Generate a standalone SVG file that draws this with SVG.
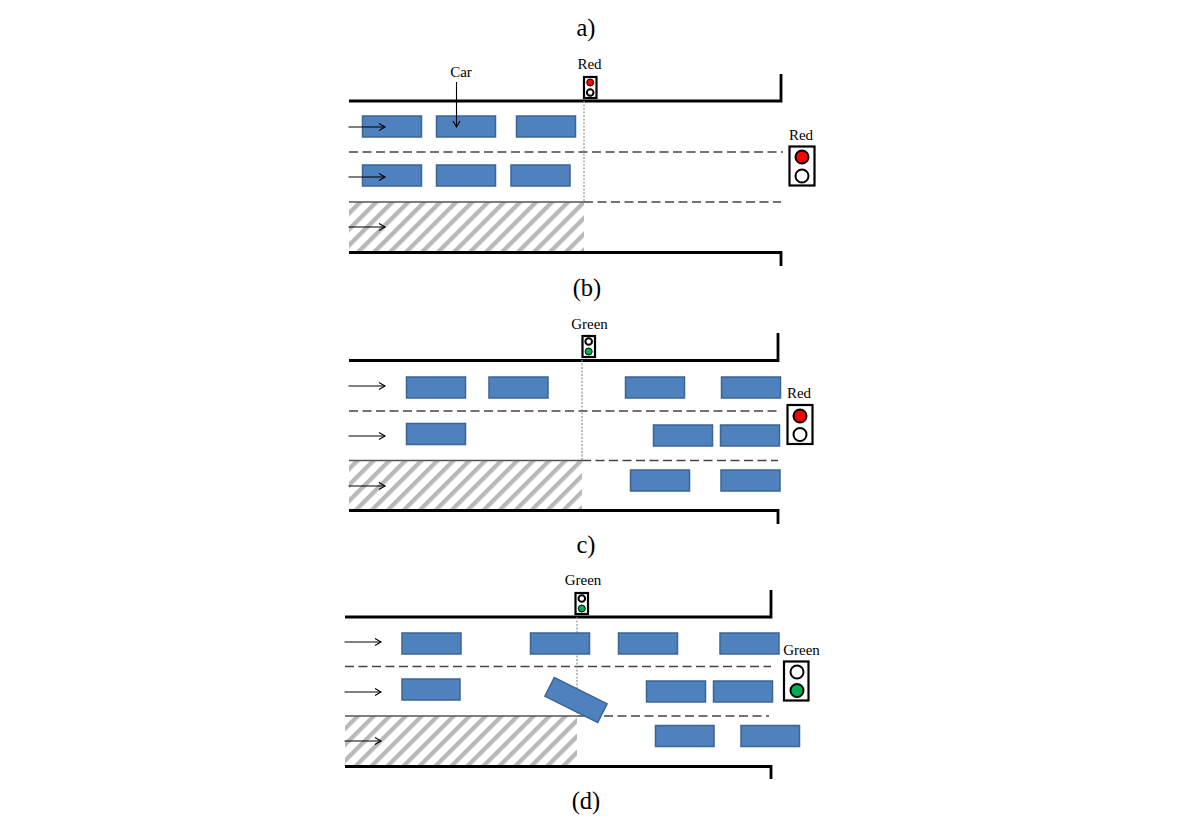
<svg xmlns="http://www.w3.org/2000/svg" width="1188" height="822" viewBox="0 0 1188 822">
<style>
text{font-family:"Liberation Serif","Times New Roman",serif;fill:#000;text-anchor:middle}
.cap{font-size:24.500px}.lab{font-size:15px}
.road{fill:none;stroke:#000;stroke-width:2.800}
.dash{fill:none;stroke:#444;stroke-width:1.300;stroke-dasharray:9 4.500}
.solid{fill:none;stroke:#555;stroke-width:1.300}
.stop{fill:none;stroke:#888;stroke-width:1.100;stroke-dasharray:2 1.500}
.car{fill:#4f81bd;stroke:#3a6595;stroke-width:1.500}
.arr{fill:none;stroke:#000;stroke-width:1.100;marker-end:url(#a)}
.box{fill:#fff;stroke:#000;stroke-width:2.200}
.lamp{fill:#fff;stroke:#000;stroke-width:2}
.r{fill:#f00}.g{fill:#00b050}
.hatch{fill:url(#h)}
</style>
<defs>
<pattern id="h" patternUnits="userSpaceOnUse" width="11.300" height="11.300" patternTransform="rotate(45)">
<rect width="11.300" height="11.300" fill="#fff"/><rect width="4.300" height="11.300" fill="#b8b8b8"/>
</pattern>
<marker id="a" markerUnits="userSpaceOnUse" markerWidth="10" markerHeight="10" refX="8" refY="5" orient="auto">
<path d="M2 1.500L8 5L2 8.500" fill="none" stroke="#000" stroke-width="1.100"/>
</marker>
</defs>
<g id="captions">
<text class="cap" x="586" y="36">a)</text>
<text class="cap" x="587" y="296">(b)</text>
<text class="cap" x="586" y="553">c)</text>
<text class="cap" x="586" y="809">(d)</text>
</g>
<g id="hatches">
<rect class="hatch" x="349" y="202" width="235" height="50"/>
<rect class="hatch" x="349" y="461" width="233" height="49"/>
<rect class="hatch" x="345" y="716" width="232" height="50"/>
</g>
<g id="roads">
<path class="road" d="M349 101H781V74M349 252.500H781V266"/>
<path class="road" d="M349 360.500H778V333M349 510.500H778V524"/>
<path class="road" d="M345 617H771V590M345 766.500H771V779"/>
</g>
<g id="lane-lines">
<path class="dash" d="M349 152H783"/><path class="solid" d="M349 202H584"/><path class="dash" d="M584 202H781"/>
<path class="dash" d="M349 411H778"/><path class="solid" d="M349 460.500H582"/><path class="dash" d="M582 460.500H778"/>
<path class="dash" d="M345 666.500H771"/><path class="solid" d="M345 716H577"/><path class="dash" d="M577 716H769"/>
<path class="stop" d="M584 101V202"/><path class="stop" d="M582 360V461"/><path class="stop" d="M577 617V716"/>
</g>
<g id="cars">
<rect class="car" x="362.500" y="116" width="59" height="21"/><rect class="car" x="436.500" y="116" width="59" height="21"/><rect class="car" x="516.500" y="116" width="59" height="21"/>
<rect class="car" x="362.500" y="165" width="59" height="21"/><rect class="car" x="436.500" y="165" width="59" height="21"/><rect class="car" x="511" y="165" width="59" height="21"/>
<rect class="car" x="406.500" y="377" width="59" height="21"/><rect class="car" x="489" y="377" width="59" height="21"/><rect class="car" x="625.500" y="377" width="59" height="21"/><rect class="car" x="721.500" y="377" width="59" height="21"/>
<rect class="car" x="406.500" y="423.500" width="59" height="21"/><rect class="car" x="653.500" y="425" width="59" height="21"/><rect class="car" x="720.500" y="425" width="59" height="21"/>
<rect class="car" x="630.500" y="470" width="59" height="21"/><rect class="car" x="721" y="470" width="59" height="21"/>
<rect class="car" x="402" y="633" width="59" height="21"/><rect class="car" x="530.500" y="633" width="59" height="21"/><rect class="car" x="618.500" y="633" width="59" height="21"/><rect class="car" x="720" y="633" width="59" height="21"/>
<rect class="car" x="402" y="679" width="58" height="21"/><rect class="car" x="646.500" y="681" width="59" height="21"/><rect class="car" x="713.500" y="681" width="59" height="21"/>
<rect class="car" x="655.500" y="725.500" width="58.500" height="21"/><rect class="car" x="741" y="725.500" width="58.500" height="21"/>
<rect class="car" x="-29.500" y="-10.500" width="59" height="21" transform="translate(576 700) rotate(26.500)"/>
</g>
<g id="arrows">
<path class="arr" d="M348.500 127H385"/><path class="arr" d="M348.500 177H385"/><path class="arr" d="M348.500 227H385"/>
<path class="arr" d="M348.500 386H385"/><path class="arr" d="M348.500 436H385"/><path class="arr" d="M348.500 486H385"/>
<path class="arr" d="M344.500 642H381"/><path class="arr" d="M344.500 692H381"/><path class="arr" d="M344.500 741H381"/>
<path class="arr" d="M456.500 82V127"/>
</g>
<g id="car-label"><text class="lab" x="461" y="77">Car</text></g>
<g id="signal-b-top"><text class="lab" x="589.500" y="69">Red</text><rect class="box" x="584" y="77" width="12.500" height="21"/><circle class="r" cx="590.200" cy="82.500" r="3.500" stroke="#000" stroke-width="1"/><circle class="lamp" cx="590.200" cy="92.500" r="3.300" stroke-width="1.300"/></g>
<g id="signal-b-side"><text class="lab" x="801" y="140">Red</text><rect class="box" x="789.500" y="146.500" width="25" height="39"/><circle class="lamp r" cx="802" cy="157" r="6.500"/><circle class="lamp" cx="802" cy="176" r="6.500"/></g>
<g id="signal-c-top"><text class="lab" x="589.500" y="329">Green</text><rect class="box" x="582.500" y="336" width="12.500" height="21"/><circle class="lamp" cx="588.700" cy="341.500" r="3.300" stroke-width="1.300"/><circle class="g" cx="588.700" cy="351.500" r="3.500" stroke="#000" stroke-width="1"/></g>
<g id="signal-c-side"><text class="lab" x="799" y="398">Red</text><rect class="box" x="787.500" y="405" width="25" height="39"/><circle class="lamp r" cx="800" cy="416" r="6.500"/><circle class="lamp" cx="800" cy="434.500" r="6.500"/></g>
<g id="signal-d-top"><text class="lab" x="583" y="585">Green</text><rect class="box" x="575.500" y="593" width="12.500" height="21"/><circle class="lamp" cx="581.800" cy="598.500" r="3.300" stroke-width="1.300"/><circle class="g" cx="581.800" cy="608.500" r="3.500" stroke="#000" stroke-width="1"/></g>
<g id="signal-d-side"><text class="lab" x="801.500" y="655">Green</text><rect class="box" x="784" y="661.500" width="24.500" height="39"/><circle class="lamp" cx="797" cy="672" r="6.500"/><circle class="lamp g" cx="797" cy="690.500" r="6.500"/></g>
</svg>
